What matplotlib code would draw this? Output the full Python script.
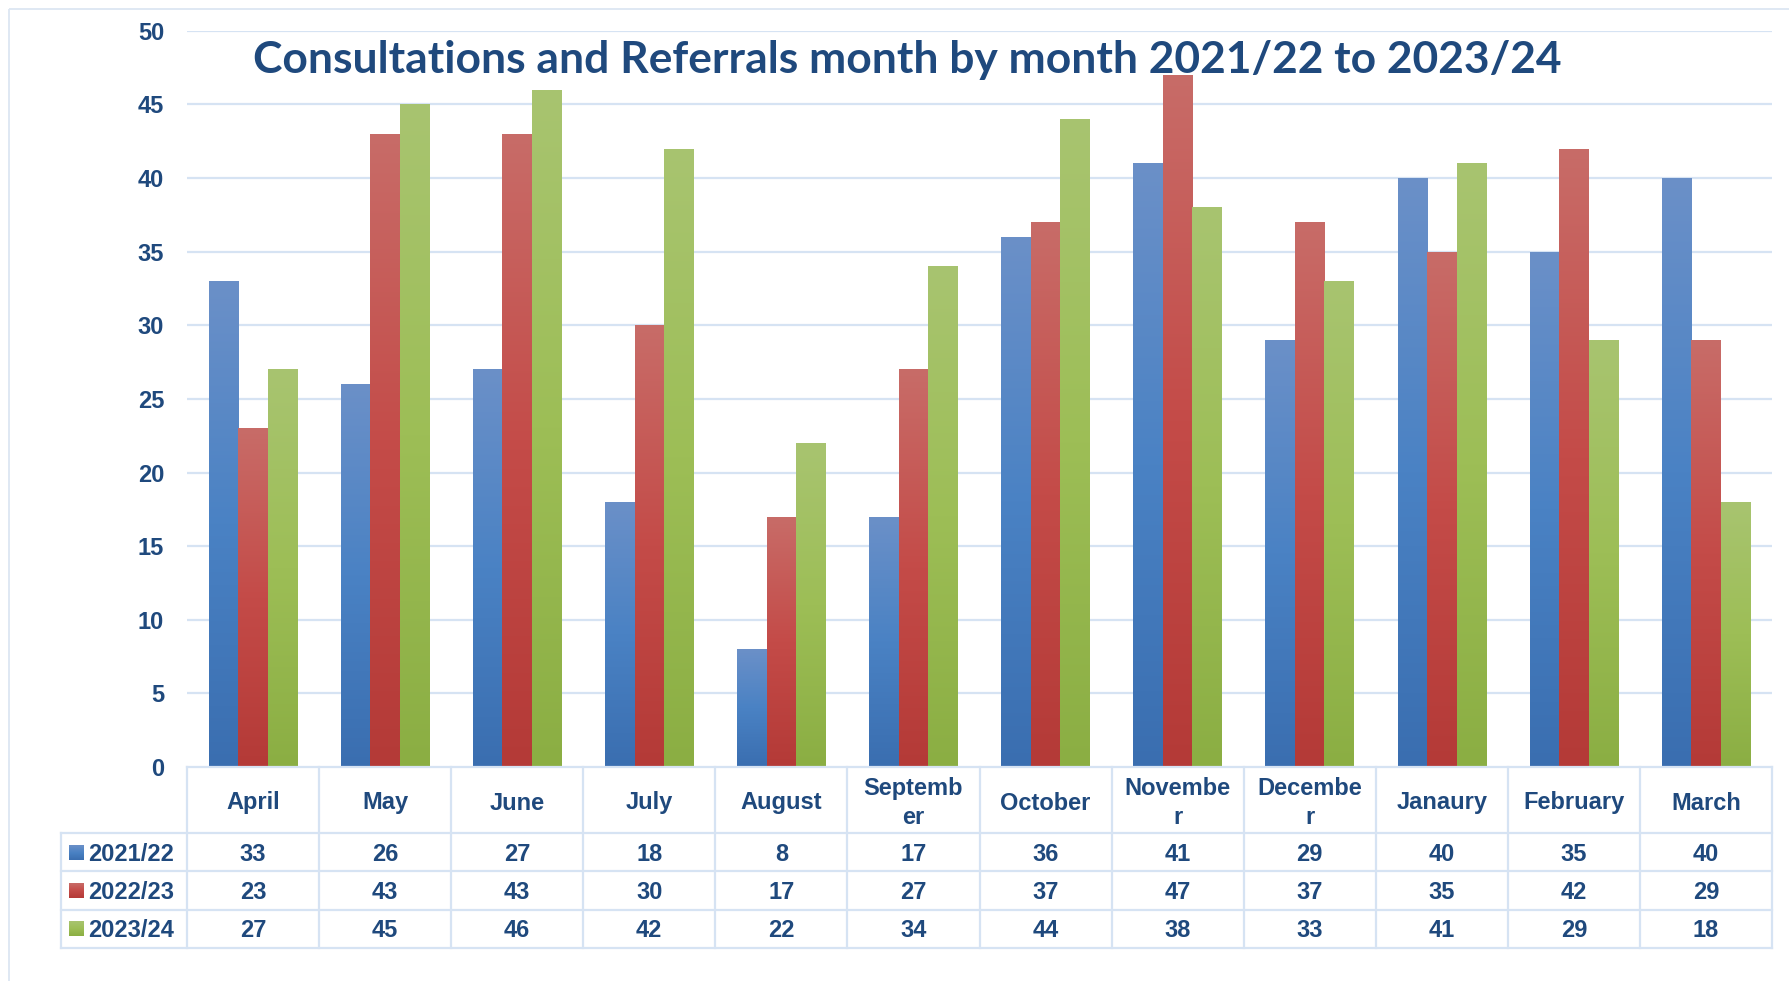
import numpy as np
import matplotlib
matplotlib.use("Agg")
import matplotlib.pyplot as plt
from matplotlib.colors import LinearSegmentedColormap
from matplotlib.patches import Rectangle

# ---------------- data ----------------
months = ["April", "May", "June", "July", "August", "Septemb\ner", "October",
          "Novembe\nr", "Decembe\nr", "Janaury", "February", "March"]
series_names = ["2021/22", "2022/23", "2023/24"]
v_2021 = [33, 26, 27, 18, 8, 17, 36, 41, 29, 40, 35, 40]
v_2022 = [23, 43, 43, 30, 17, 27, 37, 47, 37, 35, 42, 29]
v_2023 = [27, 45, 46, 42, 22, 34, 44, 38, 33, 41, 29, 18]
yticks = [0, 5, 10, 15, 20, 25, 30, 35, 40, 45, 50]
title = "Consultations and Referrals month by month 2021/22 to 2023/24"

# ---------------- style ----------------
W, H = 1789, 981
DPI = 100
TXT = "#1F497D"
GRID = "#D6E3F3"
TABLE = "#D6E3F3"
FONT = "Liberation Sans"
grad_colors = [
    ["#3A6EB0", "#4A82C4", "#6B90C8"],   # blue  (bottom, mid, top)
    ["#B43A37", "#C44B48", "#C86C68"],   # red
    ["#8BAE43", "#9DBE56", "#A8C470"],   # green
]
cmaps = [LinearSegmentedColormap.from_list(f"g{i}", c) for i, c in enumerate(grad_colors)]

PLOT_L, PLOT_R = 187, 1772
Y_TOP, Y_ZERO = 30.8, 767
HDR_BOTTOM = 833
ROW_H = 38.3
LEG_L = 61
FS = 17

fig = plt.figure(figsize=(W / DPI, H / DPI), dpi=DPI)
fig.patch.set_facecolor("white")

ax = fig.add_axes([PLOT_L / W, (H - Y_ZERO) / H, (PLOT_R - PLOT_L) / W, (Y_ZERO - Y_TOP) / H])
ax.set_facecolor("none")
for s in ax.spines.values():
    s.set_visible(False)

n = len(months)
x = np.arange(n)
bw = 0.2235
series = [v_2021, v_2022, v_2023]
offsets = [-bw, 0, bw]
grad = np.linspace(0, 1, 256).reshape(-1, 1)
for vals, off, cm, cols in zip(series, offsets, cmaps, grad_colors):
    bars = ax.bar(x + off, vals, width=bw, color=cols[1], zorder=2, linewidth=0)
    for p in bars.patches:
        x0, y0, w, h = p.get_x(), p.get_y(), p.get_width(), p.get_height()
        im = ax.imshow(grad, extent=[x0, x0 + w, y0, y0 + h], origin="lower",
                       aspect="auto", cmap=cm, zorder=3, interpolation="bicubic")
        im.set_clip_path(p)

for yt in yticks[1:]:
    ax.axhline(yt, color=GRID, lw=1.6, zorder=1)
ax.set_xlim(-0.5, n - 0.5)
ax.set_ylim(0, yticks[-1])
ax.set_xticks([])
ax.set_yticks(yticks)
ax.set_yticklabels([str(t) for t in yticks], fontsize=FS, fontweight="bold", color=TXT,
                   family=FONT)
ax.tick_params(axis="y", length=0, pad=16.5)

# ---------------- overlay (pixel coordinates) ----------------
ov = fig.add_axes([0, 0, 1, 1])
ov.set_facecolor("none")
ov.axis("off")

# outer chart border
ov.add_patch(Rectangle((9, 9), W + 20, H + 20, fill=False, ec="#DCE6F2", lw=1.3))

colw = (PLOT_R - PLOT_L) / n
rows_top = HDR_BOTTOM
rows_bottom = HDR_BOTTOM + ROW_H * len(series_names)

# table horizontal lines
ov.plot([PLOT_L, PLOT_R], [Y_ZERO, Y_ZERO], color=TABLE, lw=1.6)
for r in range(len(series_names) + 1):
    yy = rows_top + r * ROW_H
    ov.plot([LEG_L, PLOT_R], [yy, yy], color=TABLE, lw=1.6)
# table vertical lines
for c in range(n + 1):
    xx = PLOT_L + c * colw
    ov.plot([xx, xx], [Y_ZERO, rows_bottom], color=TABLE, lw=1.6)
ov.plot([LEG_L, LEG_L], [rows_top, rows_bottom], color=TABLE, lw=1.6)

# header labels
for c, m in enumerate(months):
    ov.text(PLOT_L + (c + 0.5) * colw, (Y_ZERO + HDR_BOTTOM) / 2 + 3, m, ha="center",
            va="center", fontsize=FS, fontweight="bold", color=TXT, linespacing=1.3,
            multialignment="center", family=FONT)

# rows
for r, (name, vals, cm) in enumerate(zip(series_names, series, cmaps)):
    yc = rows_top + (r + 0.5) * ROW_H
    ov.imshow(grad, extent=[69, 84, yc + 7.5, yc - 7.5], origin="lower", aspect="auto",
              cmap=cm, interpolation="bicubic")
    ov.text(88, yc + 2, name, ha="left", va="center", fontsize=FS,
            fontweight="bold", color=TXT, family=FONT)
    for c, v in enumerate(vals):
        ov.text(PLOT_L + (c + 0.5) * colw, yc + 2, str(v), ha="center", va="center",
                fontsize=FS, fontweight="bold", color=TXT, family=FONT)

ov.set_xlim(0, W)
ov.set_ylim(H, 0)

# title, fitted to width
t = fig.text(907 / W, 1 - 73 / H, title, ha="center", va="baseline", fontsize=30,
             fontweight="bold", color=TXT, family="Lato")
fig.canvas.draw()
bb = t.get_window_extent()
t.set_fontsize(30 * 1308 / bb.width)

fig.savefig("out.png", dpi=DPI)
